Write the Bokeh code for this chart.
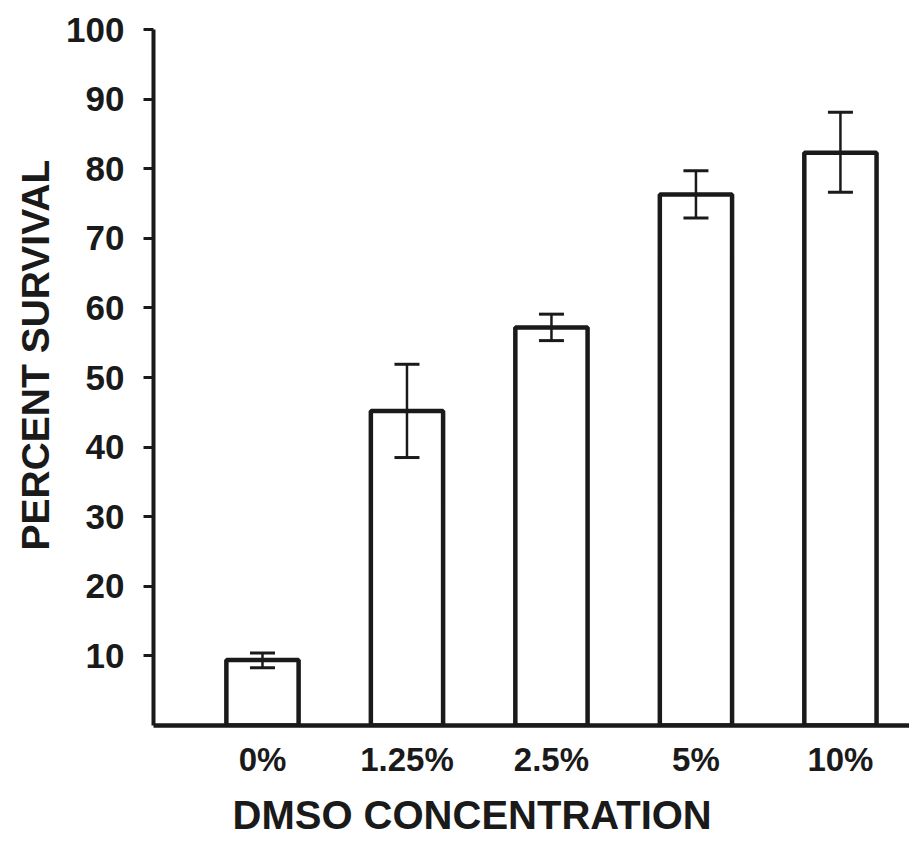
from bokeh.plotting import figure
from bokeh.models import Range1d, Whisker, ColumnDataSource, FixedTicker, Title, TeeHead
from bokeh.embed import file_html
from bokeh.resources import INLINE

categories = ["0%", "1.25%", "2.5%", "5%", "10%"]
survival = [9.4, 45.2, 57.2, 76.3, 82.3]
err_low = [8.3, 38.5, 55.3, 72.9, 76.6]
err_high = [10.4, 51.9, 59.1, 79.7, 88.1]
y_ticks = [10, 20, 30, 40, 50, 60, 70, 80, 90, 100]

xpos = list(range(1, len(categories) + 1))
src = ColumnDataSource(dict(x=xpos, top=survival, lower=err_low, upper=err_high))

p = figure(width=909, height=848, output_backend="svg", toolbar_location=None,
           x_range=Range1d(0.2457, 5.478), y_range=Range1d(0, 100),
           min_border_left=153, min_border_right=0, min_border_top=29, min_border_bottom=123)
p.outline_line_color = None
p.grid.grid_line_color = None
p.background_fill_color = "white"
p.border_fill_color = "white"

p.vbar(x="x", top="top", bottom=0, width=0.5, source=src,
       fill_color="white", line_color="#1a1a1a", line_width=4.5)

w = Whisker(base="x", lower="lower", upper="upper", source=src,
            line_color="#1a1a1a", line_width=2.5, level="overlay",
            upper_head=TeeHead(size=25, line_width=3, line_color="#1a1a1a"),
            lower_head=TeeHead(size=25, line_width=3, line_color="#1a1a1a"))
p.add_layout(w)

font = "Liberation Sans"
# y axis
p.yaxis.ticker = FixedTicker(ticks=y_ticks)
p.yaxis.axis_line_width = 4
p.yaxis.axis_line_color = "#1a1a1a"
p.yaxis.major_tick_line_width = 3
p.yaxis.major_tick_line_color = "#1a1a1a"
p.yaxis.major_tick_out = 10
p.yaxis.major_tick_in = 0
p.yaxis.minor_tick_line_color = None
p.yaxis.major_label_text_font = font
p.yaxis.major_label_text_font_style = "bold"
p.yaxis.major_label_text_font_size = "35px"
p.yaxis.major_label_text_color = "#1a1a1a"
p.yaxis.major_label_standoff = 19

ytitle = Title(text="PERCENT SURVIVAL", align="left", offset=175, vertical_align="bottom",
               text_font=font, text_font_style="bold", text_font_size="39px",
               text_color="#1a1a1a", standoff=13)
p.add_layout(ytitle, "left")

# x axis
p.xaxis.ticker = FixedTicker(ticks=xpos)
p.xaxis.major_label_overrides = {x: c for x, c in zip(xpos, categories)}
p.xaxis.axis_line_width = 4.5
p.xaxis.axis_line_color = "#1a1a1a"
p.xaxis.major_tick_out = 0
p.xaxis.major_tick_in = 0
p.xaxis.minor_tick_line_color = None
p.xaxis.major_label_text_font = font
p.xaxis.major_label_text_font_style = "bold"
p.xaxis.major_label_text_font_size = "33px"
p.xaxis.major_label_text_color = "#1a1a1a"
p.xaxis.major_label_standoff = 15

t = Title(text="DMSO CONCENTRATION", align="left", offset=79,
          text_font=font, text_font_style="bold", text_font_size="40px",
          text_color="#1a1a1a", standoff=21)
p.add_layout(t, "below")

open("out.html", "w").write(file_html(p, INLINE))
